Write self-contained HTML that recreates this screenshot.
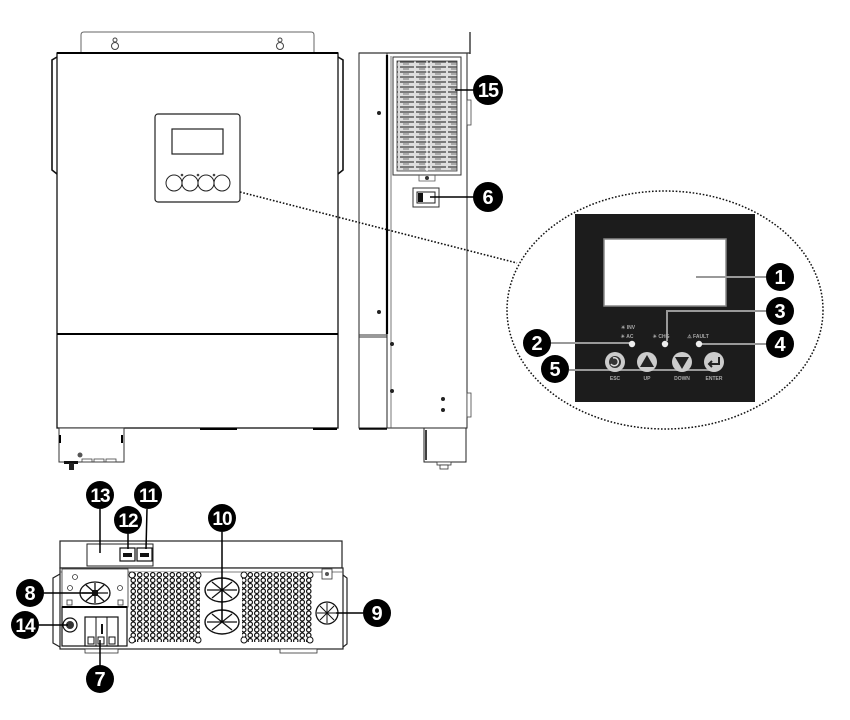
<!DOCTYPE html>
<html><head><meta charset="utf-8"><style>
html,body{margin:0;padding:0;background:#fff;}
svg{display:block;}
.l{font-family:"Liberation Sans",sans-serif;font-weight:bold;fill:#fff;text-anchor:middle;}
.t{font-family:"Liberation Sans",sans-serif;font-weight:bold;fill:#aaa;text-anchor:middle;font-size:5px;}
</style></head><body>
<svg width="850" height="720" viewBox="0 0 850 720" xmlns="http://www.w3.org/2000/svg">
<defs>
<pattern id="hex" width="6.5" height="5.5" patternUnits="userSpaceOnUse">
<rect width="6.5" height="5.5" fill="#fff"/>
<circle cx="3.25" cy="2.75" r="2.2" fill="none" stroke="#111" stroke-width="1.2"/>
</pattern>
<pattern id="slat" width="16" height="5" patternUnits="userSpaceOnUse">
<rect width="16" height="5" fill="#ddd"/>
<line x1="0" y1="2" x2="14" y2="2" stroke="#444" stroke-width="1.3"/>
<line x1="3" y1="4" x2="9" y2="4" stroke="#777" stroke-width="1"/>
</pattern>
</defs>

<!-- ===== FRONT VIEW ===== -->
<path d="M81,53 V35 Q81,32 84,32 H311 Q314,32 314,35 V53" fill="none" stroke="#666" stroke-width="1"/>
<g fill="none" stroke="#444" stroke-width="1">
<circle cx="115" cy="46" r="3.5"/><circle cx="115" cy="40" r="2"/>
<circle cx="280" cy="46" r="3.5"/><circle cx="280" cy="40" r="2"/>
</g>
<rect x="57" y="53" width="281" height="375" fill="#fff" stroke="#111" stroke-width="1.3"/>
<line x1="57" y1="53" x2="338" y2="53" stroke="#000" stroke-width="2"/>
<path d="M57,57 L52,60 V170 L57,174" fill="none" stroke="#111" stroke-width="1.6"/>
<path d="M338,57 L343,60 V170 L338,174" fill="none" stroke="#111" stroke-width="1.6"/>
<line x1="57" y1="334" x2="338" y2="334" stroke="#000" stroke-width="2"/>
<g stroke="#000" stroke-width="2">
<line x1="59" y1="429" x2="78" y2="429"/><line x1="200" y1="429" x2="237" y2="429"/><line x1="313" y1="429" x2="337" y2="429"/>
</g>
<rect x="59" y="428" width="65" height="34" fill="#fff" stroke="#333" stroke-width="1"/>
<circle cx="80" cy="455" r="2.5" fill="#555"/>
<g fill="none" stroke="#444" stroke-width="0.8"><rect x="82" y="459" width="10" height="3"/><rect x="94" y="459" width="10" height="3"/><rect x="106" y="459" width="10" height="3"/></g>
<rect x="64" y="461" width="14" height="3" fill="#111"/><rect x="69" y="463" width="5" height="7" fill="#222"/>
<line x1="60" y1="435" x2="60" y2="443" stroke="#000" stroke-width="2"/><line x1="122" y1="435" x2="122" y2="443" stroke="#000" stroke-width="2"/>
<!-- front panel -->
<rect x="155" y="114" width="85" height="88" rx="3" fill="#fff" stroke="#222" stroke-width="1.2"/>
<rect x="172" y="129" width="51" height="25" fill="#fff" stroke="#222" stroke-width="1.2"/>
<g fill="#fff" stroke="#222" stroke-width="1">
<circle cx="174" cy="183" r="8"/><circle cx="190" cy="183" r="8"/><circle cx="206" cy="183" r="8"/><circle cx="222" cy="183" r="8"/>
</g>
<g fill="#444"><circle cx="182" cy="175" r="1.3"/><circle cx="198" cy="175" r="1.3"/><circle cx="214" cy="175" r="1.3"/></g>

<!-- ===== SIDE VIEW ===== -->
<line x1="470" y1="32" x2="470" y2="54" stroke="#222" stroke-width="1.3"/>
<rect x="359" y="53" width="28" height="375" fill="#fff" stroke="#222" stroke-width="1"/>
<line x1="359" y1="335" x2="387" y2="335" stroke="#333" stroke-width="1"/>
<line x1="359" y1="337" x2="387" y2="337" stroke="#333" stroke-width="1"/>
<rect x="387" y="53" width="80" height="375" fill="#fff" stroke="#222" stroke-width="1"/>
<line x1="359" y1="53" x2="470" y2="53" stroke="#333" stroke-width="1.3"/>
<line x1="387" y1="55" x2="387" y2="334" stroke="#000" stroke-width="2.2"/>
<line x1="391" y1="56" x2="391" y2="428" stroke="#555" stroke-width="0.8"/>
<rect x="467" y="100" width="4" height="25" fill="#fff" stroke="#444" stroke-width="0.8"/>
<rect x="467" y="393" width="4" height="24" fill="#fff" stroke="#444" stroke-width="0.8"/>
<!-- vent -->
<rect x="393" y="57" width="68" height="118" fill="#fff" stroke="#333" stroke-width="1"/>
<rect x="397" y="61" width="60" height="110" fill="url(#slat)" stroke="#333" stroke-width="0.8"/>
<line x1="427" y1="61" x2="427" y2="171" stroke="#fff" stroke-width="1.2"/>
<path d="M419,175 V181 H435 V175" fill="none" stroke="#555" stroke-width="0.8"/>
<circle cx="427" cy="178" r="2" fill="#333"/>
<!-- switch -->
<rect x="413" y="188" width="26" height="19" fill="#fff" stroke="#333" stroke-width="1"/>
<rect x="417" y="192" width="18" height="11" fill="#fff" stroke="#222" stroke-width="1"/>
<rect x="418" y="193" width="5" height="9" fill="#111"/>
<!-- screws -->
<g fill="#222"><circle cx="379" cy="113" r="2"/><circle cx="379" cy="312" r="2"/><circle cx="392" cy="344" r="2"/><circle cx="392" cy="391" r="2"/><circle cx="443" cy="399" r="2"/><circle cx="443" cy="410" r="2"/></g>
<line x1="359" y1="429" x2="387" y2="429" stroke="#000" stroke-width="1.5"/>
<rect x="424" y="428" width="42" height="34" fill="#fff" stroke="#222" stroke-width="1"/>
<line x1="426" y1="430" x2="426" y2="460" stroke="#000" stroke-width="1.5"/>
<rect x="437" y="462" width="14" height="3" fill="#fff" stroke="#333" stroke-width="0.8"/>
<rect x="440" y="465" width="8" height="4" fill="#fff" stroke="#333" stroke-width="0.8"/>

<!-- labels 15 & 6 -->
<line x1="455" y1="90" x2="474" y2="90" stroke="#000" stroke-width="1.5"/>
<circle cx="488" cy="90" r="15" fill="#000"/><text class="l" x="488" y="97" font-size="20" letter-spacing="-1">15</text>
<line x1="430" y1="197" x2="474" y2="197" stroke="#000" stroke-width="1.5"/>
<circle cx="488" cy="197" r="15" fill="#000"/><text class="l" x="488" y="204" font-size="20">6</text>

<!-- dotted connector (on top) -->
<line x1="240" y1="192" x2="517" y2="263" stroke="#111" stroke-width="1.6" stroke-dasharray="1.6,1.8"/>

<!-- ===== ZOOMED PANEL ===== -->
<ellipse cx="665" cy="310" rx="158" ry="119" fill="none" stroke="#111" stroke-width="1.5" stroke-dasharray="1.6,1.8"/>
<rect x="575" y="214" width="180" height="188" fill="#1c1c1c"/>
<rect x="604" y="239" width="122" height="67" fill="#fff" stroke="#888" stroke-width="1.5"/>
<g stroke="#999" stroke-width="2" fill="none">
<line x1="696" y1="277" x2="766" y2="277"/>
<polyline points="667,341 667,311 766,311"/>
<line x1="699" y1="344" x2="766" y2="344"/>
<line x1="551" y1="343" x2="632" y2="343"/>
<line x1="569" y1="370" x2="717" y2="370"/>
</g>
<g fill="#eee"><circle cx="632" cy="344" r="3.2"/><circle cx="665" cy="344" r="3.2"/><circle cx="699" cy="344" r="3.2"/></g>
<text class="t" x="628" y="329" font-size="5">☀ INV</text>
<text class="t" x="627" y="338" font-size="5">☀ AC</text>
<text class="t" x="661" y="338" font-size="5">☀ CHG</text>
<text class="t" x="698" y="338" font-size="5">⚠ FAULT</text>
<!-- buttons -->
<circle cx="615" cy="362" r="10" fill="#ccc"/><circle cx="615" cy="362" r="6" fill="#333"/>
<path d="M613,358 A4,4 0 1 1 611,364" fill="none" stroke="#ddd" stroke-width="1.5"/>
<circle cx="647" cy="362" r="10" fill="#ccc"/><polygon points="647,355 654,367 640,367" fill="#222"/>
<circle cx="682" cy="362" r="10" fill="#ccc"/><polygon points="682,369 689,357 675,357" fill="#222"/>
<circle cx="714" cy="362" r="10" fill="#ccc"/><path d="M719,357 V364 H709 M712,361 L709,364 L712,367" fill="none" stroke="#222" stroke-width="2"/>
<text class="t" x="615" y="380">ESC</text>
<text class="t" x="647" y="380">UP</text>
<text class="t" x="682" y="380">DOWN</text>
<text class="t" x="714" y="380">ENTER</text>
<!-- panel labels -->
<circle cx="780" cy="277" r="14" fill="#000"/><text class="l" x="780" y="284" font-size="20">1</text>
<circle cx="780" cy="311" r="14" fill="#000"/><text class="l" x="780" y="318" font-size="20">3</text>
<circle cx="780" cy="344" r="14" fill="#000"/><text class="l" x="780" y="351" font-size="20">4</text>
<circle cx="537" cy="343" r="14" fill="#000"/><text class="l" x="537" y="350" font-size="20">2</text>
<circle cx="555" cy="369" r="14" fill="#000"/><text class="l" x="555" y="376" font-size="20">5</text>

<!-- ===== BOTTOM VIEW ===== -->
<rect x="60" y="541" width="282" height="27" fill="#fff" stroke="#222" stroke-width="1.2"/>
<rect x="87" y="544" width="66" height="22" fill="#fff" stroke="#222" stroke-width="1"/>
<g fill="#fff" stroke="#111" stroke-width="1.2">
<rect x="120" y="548" width="15" height="13"/><rect x="137" y="548" width="15" height="13"/>
</g>
<g fill="#111"><rect x="123" y="553" width="9" height="4"/><rect x="140" y="553" width="9" height="4"/></g>
<rect x="60" y="568" width="283" height="81" fill="#fff" stroke="#222" stroke-width="1.2"/>
<line x1="60" y1="572" x2="343" y2="572" stroke="#555" stroke-width="0.8"/>
<path d="M60,574 L53,578 V643 L60,647" fill="none" stroke="#222" stroke-width="1.2"/>
<path d="M343,575 L347,578 V644 L343,647" fill="none" stroke="#222" stroke-width="1.2"/>
<!-- left section -->
<rect x="62" y="569" width="66" height="38" fill="#fff" stroke="#333" stroke-width="0.8"/>
<rect x="62" y="607" width="65" height="39" fill="#fff" stroke="#111" stroke-width="1.2"/>
<line x1="62" y1="607" x2="127" y2="607" stroke="#000" stroke-width="2"/>
<g fill="none" stroke="#333" stroke-width="0.8"><circle cx="75" cy="577" r="2.5"/><circle cx="70" cy="588" r="2.5"/><circle cx="120" cy="588" r="2.5"/><rect x="67" y="600" width="5" height="5"/><rect x="118" y="600" width="5" height="5"/></g>
<!-- fan 8 -->
<g fill="none" stroke="#111" stroke-width="1.3">
<ellipse cx="95" cy="593" rx="15" ry="11"/>
<line x1="82" y1="593" x2="108" y2="593"/><line x1="95" y1="583" x2="95" y2="603"/>
<line x1="86" y1="585" x2="104" y2="601"/><line x1="104" y1="585" x2="86" y2="601"/>
</g>
<rect x="92" y="590" width="6" height="6" fill="#111"/>
<!-- breaker & terminal -->
<circle cx="70" cy="625" r="7" fill="#fff" stroke="#111" stroke-width="1.2"/><circle cx="70" cy="625" r="4" fill="#333"/>
<rect x="85" y="617" width="33" height="29" fill="#fff" stroke="#111" stroke-width="1.2"/>
<g stroke="#111" stroke-width="1" fill="none"><line x1="96" y1="617" x2="96" y2="646"/><line x1="107" y1="617" x2="107" y2="646"/><rect x="88" y="637" width="6" height="7"/><rect x="98" y="637" width="6" height="7"/><rect x="109" y="637" width="6" height="7"/></g>
<rect x="101" y="624" width="2" height="10" fill="#111"/>
<!-- vents -->
<rect x="130" y="572" width="70" height="70" fill="url(#hex)"/>
<rect x="242" y="572" width="70" height="70" fill="url(#hex)"/>
<g fill="#fff" stroke="#111" stroke-width="1">
<circle cx="132" cy="575" r="3"/><circle cx="198" cy="575" r="3"/><circle cx="132" cy="640" r="3"/><circle cx="198" cy="640" r="3"/>
<circle cx="244" cy="575" r="3"/><circle cx="310" cy="575" r="3"/><circle cx="244" cy="640" r="3"/><circle cx="310" cy="640" r="3"/>
</g>
<!-- fans 10 -->
<g fill="#fff" stroke="#111" stroke-width="1.4">
<ellipse cx="222" cy="590" rx="17" ry="12"/><ellipse cx="222" cy="622" rx="17" ry="12"/>
</g>
<g stroke="#111" stroke-width="1.2">
<line x1="207" y1="590" x2="237" y2="590"/><line x1="212" y1="582" x2="232" y2="598"/><line x1="232" y1="582" x2="212" y2="598"/>
<line x1="207" y1="622" x2="237" y2="622"/><line x1="212" y1="614" x2="232" y2="630"/><line x1="232" y1="614" x2="212" y2="630"/>
</g>
<!-- fan 9 -->
<rect x="322" y="569" width="10" height="10" fill="#fff" stroke="#333" stroke-width="0.8"/><circle cx="327" cy="574" r="2" fill="#555"/>
<circle cx="327" cy="613" r="11" fill="#fff" stroke="#111" stroke-width="1.3"/>
<g stroke="#111" stroke-width="1"><line x1="317" y1="613" x2="337" y2="613"/><line x1="327" y1="603" x2="327" y2="623"/><line x1="320" y1="606" x2="334" y2="620"/><line x1="334" y1="606" x2="320" y2="620"/></g>
<!-- feet -->
<rect x="85" y="649" width="33" height="4" fill="#fff" stroke="#333" stroke-width="0.8"/>
<rect x="280" y="649" width="37" height="4" fill="#fff" stroke="#333" stroke-width="0.8"/>

<!-- bottom labels -->
<g stroke="#000" stroke-width="1.5">
<line x1="100" y1="509" x2="100" y2="553"/>
<line x1="128" y1="534" x2="128" y2="549"/>
<line x1="147" y1="509" x2="146" y2="549"/>
<line x1="222" y1="532" x2="222" y2="622"/>
<line x1="44" y1="593" x2="92" y2="593"/>
<line x1="39" y1="625" x2="68" y2="625"/>
<line x1="100" y1="666" x2="100" y2="640"/>
<line x1="336" y1="613" x2="363" y2="613"/>
</g>
<circle cx="100" cy="495" r="14" fill="#000"/><text class="l" x="100" y="502" font-size="19" letter-spacing="-1">13</text>
<circle cx="148" cy="495" r="14" fill="#000"/><text class="l" x="148" y="502" font-size="19" letter-spacing="-1">11</text>
<circle cx="128" cy="520" r="14" fill="#000"/><text class="l" x="128" y="527" font-size="19" letter-spacing="-1">12</text>
<circle cx="222" cy="518" r="14" fill="#000"/><text class="l" x="222" y="525" font-size="19" letter-spacing="-1">10</text>
<circle cx="30" cy="593" r="14" fill="#000"/><text class="l" x="30" y="600" font-size="20">8</text>
<circle cx="25" cy="625" r="14" fill="#000"/><text class="l" x="25" y="632" font-size="19" letter-spacing="-1">14</text>
<circle cx="377" cy="613" r="14" fill="#000"/><text class="l" x="377" y="620" font-size="20">9</text>
<circle cx="100" cy="679" r="14" fill="#000"/><text class="l" x="100" y="686" font-size="20">7</text>
</svg>
</body></html>
